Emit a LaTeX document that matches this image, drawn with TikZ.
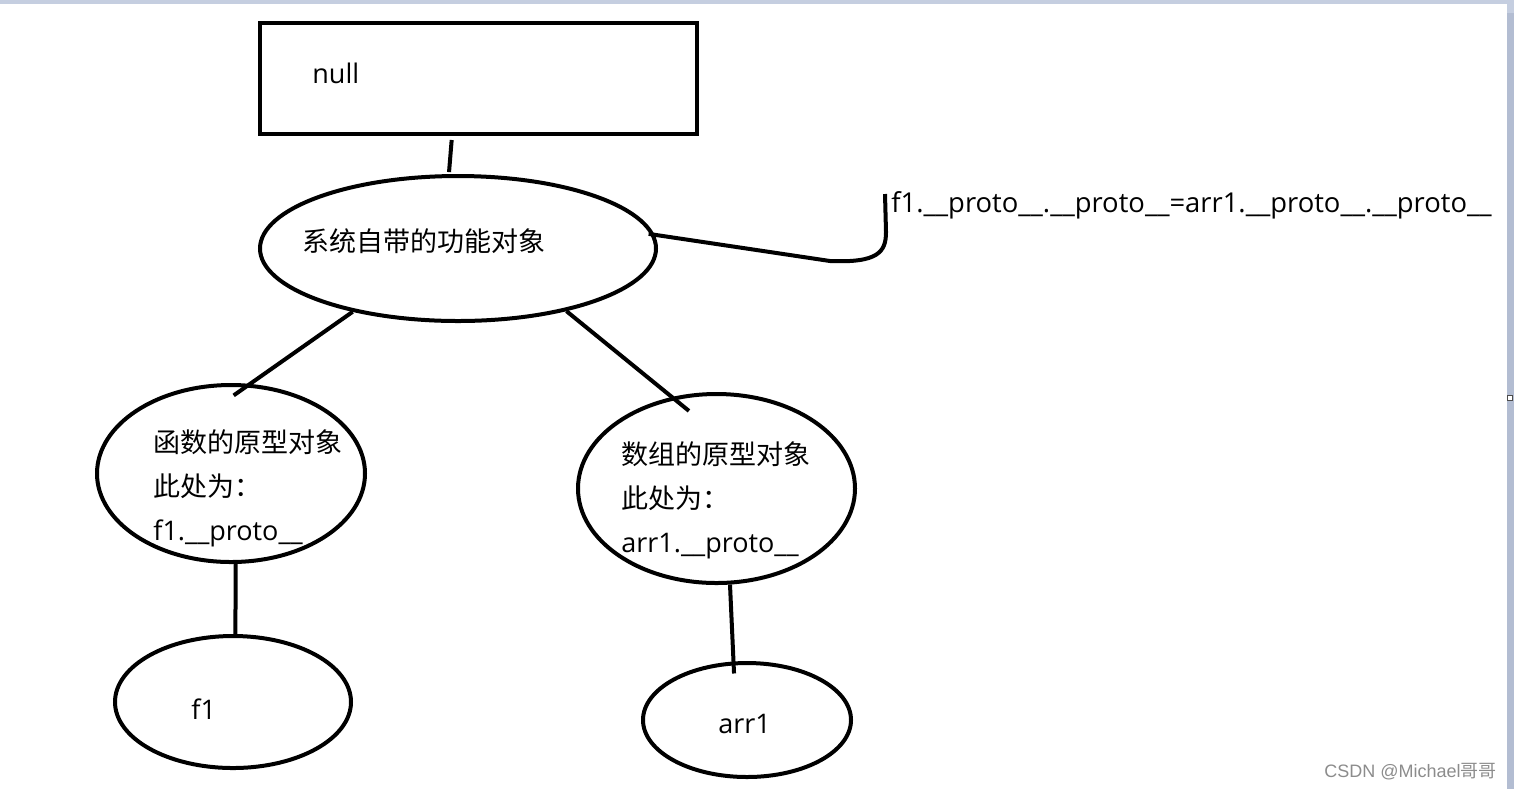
\documentclass[tikz,border=0pt]{standalone}
\usepackage{fontspec}
\setmainfont{Open Sans}
\newfontfamily\cjk{Noto Sans CJK SC}
\newfontfamily\marksans{Liberation Sans}
\usetikzlibrary{shapes.geometric,calc}
\definecolor{framegray}{HTML}{C5CEE0}
\definecolor{edgegray}{HTML}{B3BDD2}
\definecolor{markgray}{HTML}{8C8C8C}

\begin{document}
\begin{tikzpicture}[
  x=0.5pt, y=-0.5pt,
  font=\fontsize{13.5pt}{22pt}\selectfont,
  obj/.style={ellipse, draw, line width=2pt, inner sep=0pt},
  rootbox/.style={rectangle, draw, line width=2pt, inner sep=0pt},
  txt/.style={inner sep=0pt, align=left},
  link/.style={line width=2pt},
]
\useasboundingbox (0,0) rectangle (1514,789);

% Screen edges
\fill[framegray] (0,0) rectangle (1514,4);
\fill[framegray] (1507,0) rectangle (1514,13);
\fill[edgegray] (1507,13) rectangle (1514,789);
\draw[gray!60!black, fill=white, line width=0.5pt] (1507.5,395) rectangle (1512,400);

% Prototype chain
\node[rootbox, minimum width=218.5pt, minimum height=55.5pt] (null) at (478.5,78.5) {};
\node[obj, minimum width=198pt, minimum height=72.5pt] (sys) at (458,248.5) {};
\node[obj, minimum width=134pt, minimum height=88.5pt] (fproto) at (231,473.5) {};
\node[obj, minimum width=138.5pt, minimum height=94.5pt] (aproto) at (716.5,488.5) {};
\node[obj, minimum width=118pt, minimum height=66pt] (f1) at (233,702) {};
\node[obj, minimum width=104pt, minimum height=57pt] (arr1) at (747,720) {};

% Texts
\node[txt, anchor=base west] (nulltxt) at (312,83) {null};
\node[txt, anchor=base west] (systxt) at (302,251) {\cjk 系统自带的功能对象};
\node[txt, anchor=north west] (fprototxt) at (153,429)
  {{\cjk 函数的原型对象}\\{\cjk 此处为：}\\f1.\_\_proto\_\_};
\node[txt, anchor=north west] (aprototxt) at (621,441)
  {{\cjk 数组的原型对象}\\{\cjk 此处为：}\\arr1.\_\_proto\_\_};
\node[txt, anchor=base west] (f1txt) at (191,719) {f1};
\node[txt, anchor=base west] (arr1txt) at (718,733) {arr1};
\node[txt, anchor=base west, font=\fontsize{13.7pt}{22pt}\selectfont] (eq) at (891,212)
  {f1.\_\_proto\_\_.\_\_proto\_\_=arr1.\_\_proto\_\_.\_\_proto\_\_};

% Links
\draw[link, shorten <=2pt, shorten >=1pt] ([xshift=-13.25pt]null.south) -- (sys.97);
\draw[link, shorten >=-10pt] (sys.-149) -- (fproto.78);
\draw[link, shorten >=-11pt] (sys.-30) -- (aproto.116);
\draw[link] (fproto.-87) -- (f1.88);
\draw[link, shorten >=-6pt] (aproto.-82) -- (arr1.103);

% Hook to the equation
\coordinate (hook) at (885,194);
\draw[link, shorten <=-3pt] (sys.4) -- (830,261) .. controls (878,263) and (886,252) .. (886,232) -- (hook);

% Watermark
\node[anchor=base east, inner sep=0pt, text=markgray, font=\fontsize{9pt}{11pt}\selectfont]
  (mark) at (1497,777) {\marksans CSDN @Michael{\cjk 哥哥}};
\end{tikzpicture}
\end{document}
